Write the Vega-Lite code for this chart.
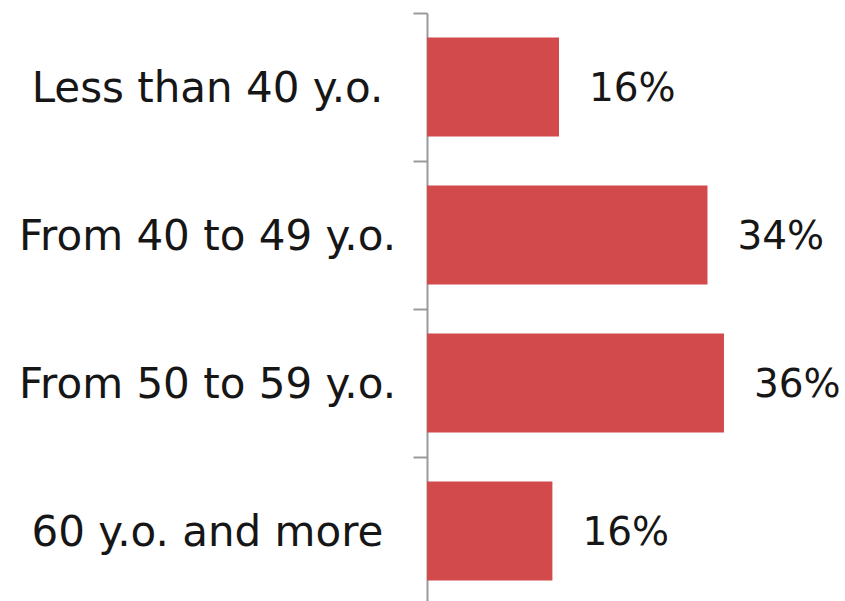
{
  "$schema": "https://vega.github.io/schema/vega-lite/v6.json",
  "autosize": "none",
  "padding": {"left": 427, "top": 13, "right": 0, "bottom": 0},
  "width": 418,
  "height": 588,
  "background": "white",
  "data": {
    "values": [
      {"group": "Less than 40 y.o.", "value": 16, "label": "16%"},
      {"group": "From 40 to 49 y.o.", "value": 34, "label": "34%"},
      {"group": "From 50 to 59 y.o.", "value": 36, "label": "36%"},
      {"group": "60 y.o. and more", "value": 15.2, "label": "16%"}
    ]
  },
  "encoding": {
    "y": {
      "field": "group",
      "type": "nominal",
      "sort": null,
      "scale": {"paddingInner": 0, "paddingOuter": 0, "range": [0, 592]},
      "axis": {
        "title": null,
        "bandPosition": 0,
        "domainColor": "#9a9a9a",
        "domainWidth": 2,
        "tickColor": "#9a9a9a",
        "tickWidth": 2,
        "tickSize": 14,
        "labelPadding": 206,
        "labelAlign": "center",
        "labelBaseline": "alphabetic",
        "labelOffset": 15,
        "labelFont": "DejaVu Sans",
        "labelFontSize": 42,
        "labelColor": "#161616",
        "labelLimit": 0
      }
    },
    "x": {
      "field": "value",
      "type": "quantitative",
      "scale": {"domain": [0, 50.67], "nice": false, "zero": true},
      "axis": null
    }
  },
  "layer": [
    {
      "mark": {"type": "bar", "color": "#d24a4b", "height": {"band": 0.67}}
    },
    {
      "mark": {
        "type": "text",
        "align": "left",
        "baseline": "middle",
        "dx": 30,
        "dy": 2,
        "font": "DejaVu Sans",
        "fontSize": 39,
        "color": "#161616"
      },
      "encoding": {"text": {"field": "label"}}
    }
  ],
  "config": {"view": {"stroke": null}}
}
